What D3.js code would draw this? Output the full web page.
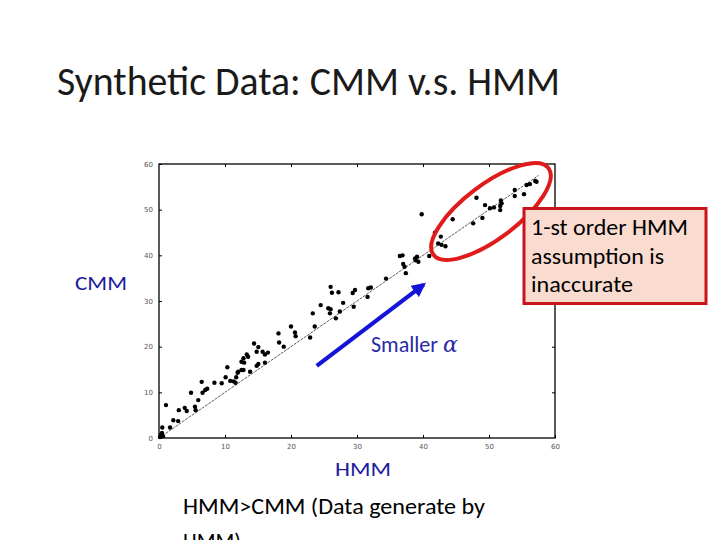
<!DOCTYPE html>
<html>
<head>
<meta charset="utf-8">
<script src="https://cdn.jsdelivr.net/npm/d3@7/dist/d3.min.js"></script>
<style>
  html, body { margin: 0; padding: 0; background: #ffffff; }
  svg { display: block; }
</style>
</head>
<body>
<svg id="chart" width="720" height="540"></svg>
<script>
// ---- data ----
const hmmValues = [0.15,0.3,0.45,0.6,0.5,1.06,1.67,2.17,2.9,3.0,3.9,4.2,4.85,5.45,5.55,5.95,6.47,6.6,7.0,7.3,
  8.4,9.5,10.1,10.35,10.8,11.3,11.6,11.7,11.9,12.0,12.5,12.8,12.5,12.8,12.9,13.3,13.5,13.8,14.4,14.8,
  15.05,14.8,15.05,15.7,16.05,16.5,16.05,18.1,18.2,18.9,20.0,20.6,20.7,22.9,23.3,23.6,24.5,25.65,26.0,25.9,
  26.8,27.4,27.9,26.0,26.2,27.2,29.35,29.7,29.5,31.7,32.1,31.6,34.4,36.5,36.9,37.0,37.2,37.4,38.8,39.1,
  39.3,38.9,40.95,39.8,41.8,42.7,42.3,42.8,43.4,44.5,47.6,48.1,49.0,49.4,50.15,50.75,51.7,51.8,51.9,51.7,
  53.9,53.9,55.3,55.7,56.2,57.0,57.2];
const cmmValues = [0.2,0.7,1.1,0.4,2.3,7.2,2.3,3.9,3.7,6.1,6.6,5.9,9.9,6.85,6.1,8.3,12.3,9.9,10.5,10.8,
  12.1,12.0,13.3,15.5,12.5,12.4,12.1,13.3,14.3,14.5,14.9,14.9,16.7,17.45,16.5,18.3,17.8,14.5,20.7,18.9,
  19.9,15.8,16.2,18.9,18.3,18.7,16.5,22.9,20.9,20.0,24.4,23.1,22.3,22.0,27.3,24.4,29.1,28.4,28.2,27.3,
  26.2,27.7,29.6,33.1,31.8,31.9,31.75,32.4,28.75,32.8,32.95,30.9,34.9,39.85,40.0,38.1,37.5,36.1,39.3,39.7,
  38.6,38.9,39.85,49.0,44.95,44.1,42.6,42.3,42.0,47.9,47.0,52.6,48.2,51.0,50.3,50.5,49.9,52.0,51.4,50.8,
  54.3,53.0,53.4,55.4,55.6,56.3,56.1];
const tickValues = [0, 10, 20, 30, 40, 50, 60];
const diagonal = [0, 57.5];
const arrowFrom = [23.9, 15.8];
const arrowTo = [40.1, 33.6];
const ellipseCenter = [50.3, 49.6];

const titleText = "Synthetic Data: CMM v.s. HMM";
const yLabelText = "CMM";
const xLabelText = "HMM";
const arrowText = "Smaller ";
const noteLines = ["HMM>CMM (Data generate by", "HMM)"];
const boxLines = ["1-st order HMM", "assumption is", "inaccurate"];

// ---- drawing ----
const svg = d3.select("#chart");
const FONT = "Carlito, Lato, 'Open Sans', sans-serif";
const x = d3.scaleLinear().domain([0, 60]).range([159, 555]);
const y = d3.scaleLinear().domain([0, 60]).range([438, 164]);

// title
svg.append("text").attr("x", 57).attr("y", 95)
  .attr("font-family", FONT).attr("font-weight", 300).attr("font-size", 40)
  .attr("fill", "#1a1a1a").attr("textLength", 503).attr("lengthAdjust", "spacingAndGlyphs")
  .text(titleText);

// frame
const plot = svg.append("g");
plot.append("rect").attr("x", x(0)).attr("y", y(60))
  .attr("width", x(60) - x(0)).attr("height", y(0) - y(60))
  .attr("fill", "none").attr("stroke", "#000").attr("stroke-width", 1.3);

// axes with inward ticks
const tickStyle = g => {
  g.select(".domain").remove();
  g.selectAll(".tick line").attr("stroke", "#000").attr("stroke-width", 1);
  g.selectAll(".tick text").attr("fill", "#555").attr("font-size", 7)
    .attr("font-family", "'DejaVu Sans', sans-serif");
};
plot.append("g").attr("transform", `translate(0,${y(0)})`)
  .call(d3.axisBottom(x).tickValues(tickValues).tickSize(-3).tickPadding(6).tickFormat(d3.format("d")))
  .call(tickStyle);
plot.append("g").attr("transform", `translate(${x(0)},0)`)
  .call(d3.axisLeft(y).tickValues(tickValues).tickSize(-3).tickPadding(6).tickFormat(d3.format("d")))
  .call(tickStyle);
plot.append("g").attr("transform", `translate(0,${y(60)})`)
  .call(d3.axisTop(x).tickValues(tickValues.slice(1, -1)).tickSize(-3).tickFormat(""))
  .call(tickStyle);
plot.append("g").attr("transform", `translate(${x(60)},0)`)
  .call(d3.axisRight(y).tickValues(tickValues.slice(1, -1)).tickSize(-3).tickFormat(""))
  .call(tickStyle);

// diagonal reference line
plot.append("line")
  .attr("x1", x(diagonal[0])).attr("y1", y(diagonal[0]))
  .attr("x2", x(diagonal[1])).attr("y2", y(diagonal[1]))
  .attr("stroke", "#333").attr("stroke-width", 0.8).attr("stroke-dasharray", "3,1");

// points
plot.selectAll("circle.pt").data(hmmValues.map((v, i) => [v, cmmValues[i]]))
  .join("circle").attr("class", "pt")
  .attr("cx", d => x(d[0])).attr("cy", d => y(d[1])).attr("r", 2.2).attr("fill", "#000");

// axis labels
svg.append("text").attr("x", 75).attr("y", 289.5)
  .attr("font-family", FONT).attr("font-size", 20).attr("fill", "#1c1c9c")
  .attr("textLength", 52).attr("lengthAdjust", "spacingAndGlyphs").text(yLabelText);
svg.append("text").attr("x", 335).attr("y", 476)
  .attr("font-family", FONT).attr("font-size", 20).attr("fill", "#1c1c9c")
  .attr("textLength", 56).attr("lengthAdjust", "spacingAndGlyphs").text(xLabelText);

// blue arrow
const defs = svg.append("defs");
defs.append("marker").attr("id", "arrowhead").attr("viewBox", "0 0 10 10")
  .attr("refX", 8).attr("refY", 5).attr("markerWidth", 3.4).attr("markerHeight", 3.4)
  .attr("orient", "auto").attr("markerUnits", "strokeWidth")
  .append("path").attr("d", "M0,0 L10,5 L0,10 Z").attr("fill", "#1414d8");
svg.append("line")
  .attr("x1", x(arrowFrom[0])).attr("y1", y(arrowFrom[1]))
  .attr("x2", x(arrowTo[0])).attr("y2", y(arrowTo[1]))
  .attr("stroke", "#1414d8").attr("stroke-width", 4.2).attr("marker-end", "url(#arrowhead)");

const st = svg.append("text").attr("x", 371).attr("y", 351.5)
  .attr("font-family", FONT).attr("font-size", 22).attr("fill", "#2a2aa8");
st.append("tspan").attr("textLength", 72).attr("lengthAdjust", "spacingAndGlyphs").text(arrowText);
st.append("tspan").attr("font-style", "italic").attr("font-family", "'DejaVu Serif', serif").text("α");

// red ellipse
svg.append("ellipse")
  .attr("cx", 0).attr("cy", 0).attr("rx", 72).attr("ry", 27)
  .attr("transform", `translate(${x(ellipseCenter[0])},${y(ellipseCenter[1])}) rotate(-37)`)
  .attr("fill", "none").attr("stroke", "#e01b1b").attr("stroke-width", 4);

// callout box
svg.append("rect").attr("x", 524).attr("y", 208.5).attr("width", 182).attr("height", 95)
  .attr("fill", "#fadbd0").attr("stroke", "#c8141c").attr("stroke-width", 3);
const boxWidths = [157, 133, 102];
svg.append("g").selectAll("text").data(boxLines).join("text")
  .attr("x", 531).attr("y", (d, i) => 235 + i * 28.5)
  .attr("font-family", FONT).attr("font-size", 22).attr("fill", "#000")
  .attr("textLength", (d, i) => boxWidths[i]).attr("lengthAdjust", "spacingAndGlyphs")
  .text(d => d);

// bottom note
svg.append("g").selectAll("text").data(noteLines).join("text")
  .attr("x", 183).attr("y", (d, i) => 514 + i * 35)
  .attr("font-family", FONT).attr("font-size", 22).attr("fill", "#000")
  .attr("textLength", (d, i) => i === 0 ? 302 : null).attr("lengthAdjust", "spacingAndGlyphs")
  .text(d => d);
</script>
</body>
</html>
